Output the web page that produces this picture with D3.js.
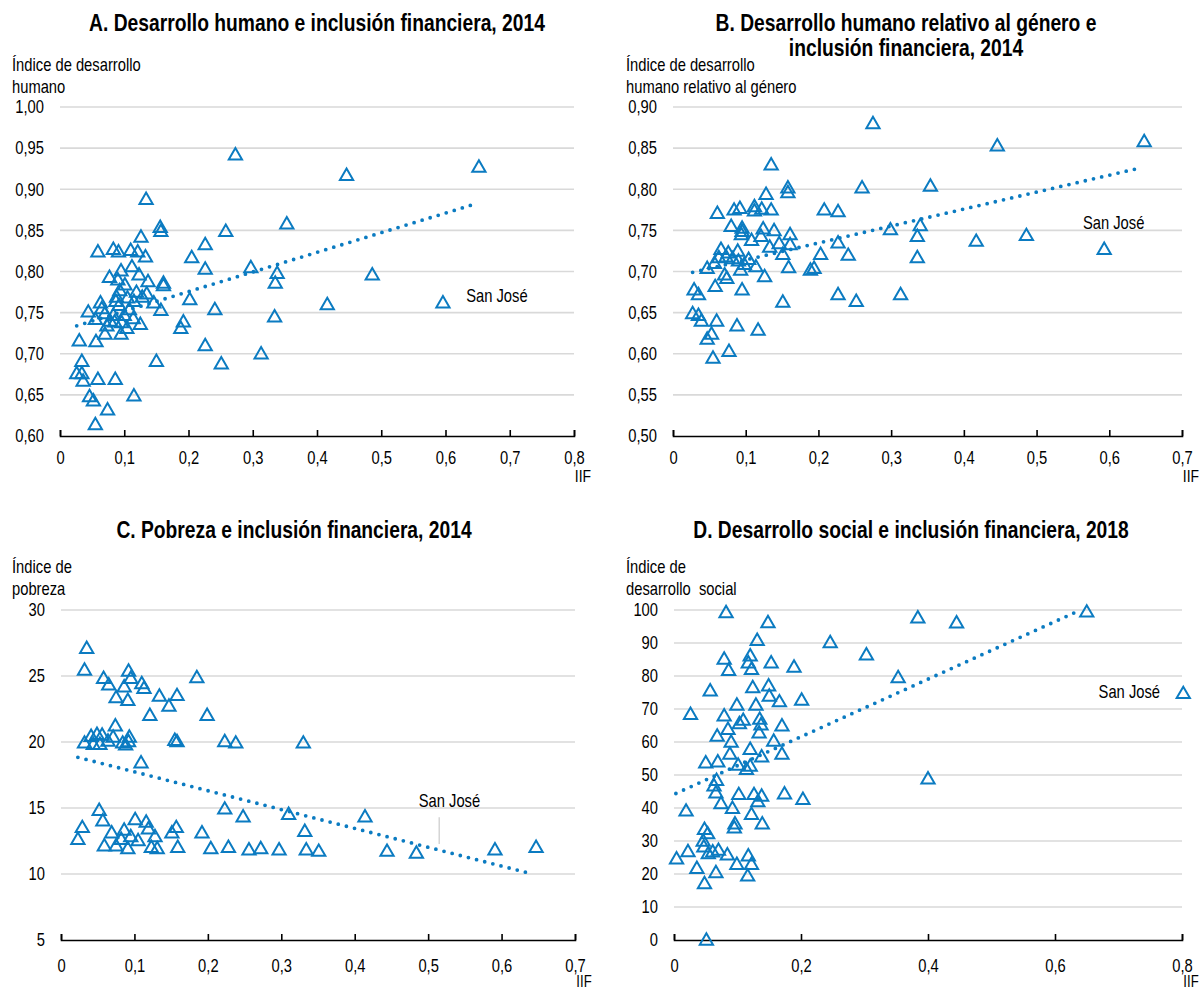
<!DOCTYPE html>
<html>
<head>
<meta charset="utf-8">
<title>Inclusión financiera - cantones</title>
<script src="https://d3js.org/d3.v7.min.js"></script>
<style>
  body { margin: 0; background: #fff; }
</style>
</head>
<body>
<div id="chart"></div>
<script>
// ---- datos: [IIF, indice] por canton ----
const puntosA = [[0.273,0.943],[0.134,0.889],[0.353,0.859],[0.156,0.855],[0.157,0.850],[0.126,0.843],[0.258,0.850],[0.226,0.834],
  [0.059,0.825],[0.083,0.828],[0.091,0.825],[0.110,0.827],[0.121,0.825],[0.133,0.819],[0.205,0.818],[0.226,0.804],[0.112,0.807],
  [0.095,0.802],[0.077,0.794],[0.090,0.791],[0.123,0.797],[0.137,0.789],[0.161,0.787],[0.161,0.784],[0.297,0.806],[0.338,0.799],
  [0.335,0.787],[0.202,0.767],[0.241,0.755],[0.334,0.746],[0.044,0.752],[0.063,0.763],[0.088,0.770],[0.105,0.769],[0.119,0.776],
  [0.135,0.774],[0.146,0.763],[0.157,0.754],[0.055,0.743],[0.070,0.750],[0.078,0.741],[0.096,0.739],[0.114,0.744],[0.125,0.737],
  [0.070,0.725],[0.095,0.725],[0.030,0.717],[0.056,0.716],[0.192,0.740],[0.188,0.732],[0.034,0.692],[0.026,0.677],[0.034,0.677],
  [0.036,0.668],[0.059,0.670],[0.086,0.670],[0.150,0.692],[0.226,0.711],[0.251,0.689],[0.313,0.701],[0.046,0.649],[0.052,0.644],
  [0.115,0.650],[0.074,0.633],[0.055,0.615],[0.446,0.918],[0.652,0.928],[0.486,0.797],[0.416,0.761],[0.596,0.763],
  [0.087,0.765],[0.092,0.760],[0.100,0.748],[0.108,0.755],[0.083,0.748],[0.065,0.756],[0.093,0.778],[0.101,0.785],[0.115,0.765],
  [0.128,0.770],[0.085,0.740],[0.073,0.735],[0.104,0.732]];

const puntosB = [[0.275,0.881],[0.135,0.831],[0.158,0.803],[0.158,0.797],[0.260,0.803],[0.128,0.795],[0.061,0.772],[0.084,0.776],
  [0.092,0.778],[0.112,0.780],[0.112,0.775],[0.122,0.777],[0.135,0.776],[0.208,0.776],[0.227,0.774],[0.080,0.756],[0.095,0.754],
  [0.095,0.750],[0.094,0.746],[0.124,0.753],[0.139,0.751],[0.161,0.746],[0.121,0.744],[0.108,0.739],[0.133,0.731],[0.146,0.735],
  [0.161,0.734],[0.151,0.722],[0.203,0.722],[0.227,0.736],[0.241,0.721],[0.299,0.752],[0.066,0.728],[0.076,0.724],[0.089,0.726],
  [0.063,0.718],[0.073,0.719],[0.082,0.717],[0.090,0.714],[0.098,0.710],[0.104,0.716],[0.114,0.707],[0.093,0.703],[0.047,0.705],
  [0.057,0.711],[0.159,0.706],[0.189,0.703],[0.194,0.705],[0.126,0.695],[0.074,0.693],[0.071,0.697],[0.058,0.683],[0.095,0.679],
  [0.029,0.679],[0.035,0.673],[0.227,0.673],[0.252,0.665],[0.151,0.664],[0.027,0.650],[0.035,0.648],[0.039,0.641],[0.060,0.641],
  [0.088,0.635],[0.117,0.630],[0.053,0.625],[0.047,0.619],[0.077,0.604],[0.055,0.596],[0.313,0.673],[0.648,0.859],[0.446,0.854],
  [0.354,0.805],[0.340,0.757],[0.336,0.744],[0.336,0.718],[0.417,0.738],[0.486,0.745],[0.593,0.728]];

const puntosC = [[0.035,27.17],[0.032,25.53],[0.058,24.9],[0.065,24.4],[0.092,25.45],[0.095,24.9],[0.086,24.25],[0.110,24.5],
  [0.113,24.14],[0.075,23.43],[0.091,23.23],[0.134,23.56],[0.158,23.6],[0.147,22.8],[0.185,24.95],[0.121,22.1],[0.199,22.1],
  [0.074,21.3],[0.032,20.0],[0.041,20.5],[0.049,20.65],[0.056,20.6],[0.044,19.9],[0.053,19.9],[0.064,20.15],[0.071,20.45],
  [0.084,20.0],[0.088,19.85],[0.093,20.45],[0.092,20.1],[0.155,20.2],[0.158,20.1],[0.223,20.1],[0.238,20.0],[0.330,20.0],
  [0.109,18.5],[0.414,14.4],[0.332,13.3],[0.334,11.9],[0.351,11.8],[0.444,11.8],[0.484,11.65],[0.591,11.9],[0.647,12.1],
  [0.223,15.0],[0.248,14.4],[0.310,14.6],[0.023,12.7],[0.029,13.6],[0.052,14.9],[0.057,14.1],[0.059,12.2],[0.069,13.2],
  [0.075,12.2],[0.082,12.7],[0.086,13.4],[0.091,12.0],[0.095,12.9],[0.101,14.2],[0.105,12.6],[0.116,14.0],[0.119,13.5],
  [0.123,12.1],[0.128,12.9],[0.131,12.0],[0.151,13.2],[0.157,13.6],[0.159,12.1],[0.192,13.2],[0.204,12.0],[0.228,12.1],
  [0.256,11.9],[0.272,12.0],[0.297,11.9]];

const puntosD = [[0.082,99.5],[0.148,96.5],[0.131,91.1],[0.246,90.4],[0.079,85.4],[0.086,82.0],[0.120,86.4],[0.117,84.3],
  [0.122,82.3],[0.153,84.3],[0.189,83.0],[0.057,75.8],[0.124,76.8],[0.149,77.3],[0.150,74.2],[0.166,72.5],[0.201,73.0],
  [0.099,71.5],[0.129,71.5],[0.026,68.7],[0.079,68.2],[0.109,66.9],[0.103,65.9],[0.135,67.2],[0.137,65.5],[0.170,65.2],
  [0.085,64.1],[0.134,63.1],[0.068,62.1],[0.090,60.3],[0.157,60.6],[0.120,58.1],[0.170,56.6],[0.088,56.6],[0.138,55.8],
  [0.050,54.0],[0.069,54.3],[0.101,53.3],[0.114,52.0],[0.120,53.0],[0.067,48.7],[0.063,47.0],[0.066,44.9],[0.074,41.6],
  [0.102,44.4],[0.126,44.4],[0.132,42.2],[0.138,43.9],[0.174,44.6],[0.203,42.9],[0.092,40.2],[0.122,38.4],[0.139,35.5],
  [0.019,39.4],[0.096,35.5],[0.095,34.3],[0.048,33.8],[0.053,32.5],[0.046,30.3],[0.047,28.5],[0.022,27.1],[0.004,24.9],
  [0.054,26.5],[0.061,27.0],[0.070,27.5],[0.084,26.1],[0.099,23.2],[0.117,25.8],[0.122,23.2],[0.116,19.7],[0.036,22.0],
  [0.066,20.7],[0.048,17.4],[0.051,0.3],[0.384,97.9],[0.445,96.4],[0.303,86.7],[0.353,79.8],[0.650,99.7],[0.802,75.0],
  [0.400,49.1]];

// lineas de tendencia (extremos)
const tendA = [[0.026,0.734],[0.650,0.883]];
const tendB = [[0.027,0.699],[0.643,0.826]];
const tendC = [[0.023,18.84],[0.642,10.0]];
const tendD = [[0.003,44.4],[0.639,99.9]];

// posicion de la etiqueta "San José" en cada panel
const etqA = [0.680,0.771];
const etqB = [0.606,0.760];
const etqC = [0.529,15.56];
const etqD = [0.717,75.3];
const guiaC = [0.515,14.3,12.27];

// ticks
const ticksXA = [0,0.1,0.2,0.3,0.4,0.5,0.6,0.7,0.8];
const ticksXB = [0,0.1,0.2,0.3,0.4,0.5,0.6,0.7];
const ticksXC = [0,0.1,0.2,0.3,0.4,0.5,0.6,0.7];
const ticksXD = [0,0.2,0.4,0.6,0.8];
const ticksYA = [0.60,0.65,0.70,0.75,0.80,0.85,0.90,0.95,1.00];
const ticksYB = [0.50,0.55,0.60,0.65,0.70,0.75,0.80,0.85,0.90];
const ticksYC = [5,10,15,20,25,30];
const ticksYD = [0,10,20,30,40,50,60,70,80,90,100];

const azul = "#0b7bc1";

let svg = d3.select("#chart").append("svg")
    .attr("width", 1200).attr("height", 989);

// ver si hay fuente estrecha instalada; si no, se comprime la normal
let probe = svg.append("text").style("font-size", "100px")
    .style("font-family", "'Liberation Sans Narrow'").text("Desarrollo humano");
let wN = probe.node().getComputedTextLength();
probe.style("font-family", "'Liberation Sans'");
let wR = probe.node().getComputedTextLength();
probe.remove();
const narrowOK = wN / wR < 0.9;
const FONT = narrowOK ? "'Liberation Sans Narrow', 'Arial Narrow', sans-serif" : "'Liberation Sans', Arial, sans-serif";
const sq = narrowOK ? 1 : 0.82;

function txt(x, y, s, size, anchor, weight) {
    return svg.append("text")
        .attr("transform", "translate(" + x + "," + y + ") scale(" + sq + ",1)")
        .attr("text-anchor", anchor || "start")
        .style("font-family", FONT)
        .style("font-size", size + "px")
        .style("font-weight", weight || "normal")
        .style("white-space", "pre")
        .attr("fill", "#000")
        .text(s);
}

const coma = s => s.replace(".", ",");
const fmtX = d => d === 0 ? "0" : coma(d3.format(".1f")(d));

function panel(cfg) {
    let x = d3.scaleLinear().domain(cfg.xDom).range([cfg.left, cfg.right]);
    let y = d3.scaleLinear().domain(cfg.yDom).range([cfg.bottom, cfg.top]);

    // lineas de cuadricula
    svg.append("g").selectAll("line")
        .data(cfg.yTicks.slice(1))
        .enter().append("line")
        .attr("x1", cfg.left).attr("x2", cfg.right)
        .attr("y1", d => y(d)).attr("y2", d => y(d))
        .attr("stroke", "#d9d9d9").attr("stroke-width", 1.6);

    // eje vertical: solo etiquetas
    let ya = svg.append("g")
        .attr("transform", "translate(" + cfg.left + ",0)")
        .call(d3.axisLeft(y).tickValues(cfg.yTicks).tickSize(0).tickPadding(16).tickFormat(cfg.yFmt));
    ya.select(".domain").remove();
    ya.selectAll("text")
        .attr("x", -16 / sq)
        .attr("transform", "scale(" + sq + ",1)")
        .style("font-family", FONT).style("font-size", "18px").attr("fill", "#000");

    // eje horizontal
    let xa = svg.append("g")
        .attr("transform", "translate(0," + cfg.bottom + ")")
        .call(d3.axisBottom(x).tickValues(cfg.xTicks).tickSizeInner(-6).tickSizeOuter(-6)
              .tickPadding(cfg.xPad).tickFormat(fmtX));
    xa.select(".domain").attr("stroke", "#000").attr("stroke-width", 1.6);
    xa.selectAll(".tick line").attr("stroke", "#000").attr("stroke-width", 1.6);
    xa.selectAll("text")
        .attr("transform", "scale(" + sq + ",1)")
        .style("font-family", FONT).style("font-size", "18px").attr("fill", "#000");

    // tendencia punteada
    svg.append("path")
        .datum(cfg.tend)
        .attr("d", d3.line().x(d => x(d[0])).y(d => y(d[1])))
        .attr("fill", "none")
        .attr("stroke", azul)
        .attr("stroke-width", 3.8)
        .attr("stroke-linecap", "round")
        .attr("stroke-dasharray", "0,8.4");

    // triangulos
    let tri = d3.symbol().type(d3.symbolTriangle).size(76);
    svg.append("g").selectAll("path")
        .data(cfg.pts)
        .enter().append("path")
        .attr("d", tri)
        .attr("transform", d => "translate(" + x(d[0]) + "," + (y(d[1]) + 1.8) + ")")
        .attr("fill", "none")
        .attr("stroke", azul)
        .attr("stroke-width", 2);

    // San José
    txt(x(cfg.etq[0]), y(cfg.etq[1]) + 6.4, "San José", 18, "middle");
    if (cfg.guia) {
        svg.append("line")
            .attr("x1", x(cfg.guia[0])).attr("x2", x(cfg.guia[0]))
            .attr("y1", y(cfg.guia[1])).attr("y2", y(cfg.guia[2]))
            .attr("stroke", "#bfbfbf").attr("stroke-width", 1);
    }

    // titulos
    cfg.title.forEach((t, i) => txt(cfg.titleX, cfg.titleY + i * 25, t, 23.5, "middle", "bold"));
    cfg.yLabel.forEach((t, i) => txt(cfg.yLabX, cfg.yLabY + i * 21.5, t, 18, "start"));
    txt(cfg.right + 9, cfg.bottom + cfg.iifDy, "IIF", cfg.iifSize, "middle");
}

const fmt2 = d => coma(d3.format(".2f")(d));
const fmt0 = d3.format("d");

panel({pts: puntosA, tend: tendA, etq: etqA, xDom: [0, 0.8], yDom: [0.6, 1.0],
    xTicks: ticksXA, yTicks: ticksYA, yFmt: fmt2, left: 60, right: 574, top: 107, bottom: 436, xPad: 15,
    title: ["A. Desarrollo humano e inclusión financiera, 2014"], titleX: 317, titleY: 31,
    yLabel: ["Índice de desarrollo", "humano"], yLabX: 12, yLabY: 71, iifDy: 46, iifSize: 17});

panel({pts: puntosB, tend: tendB, etq: etqB, xDom: [0, 0.7], yDom: [0.5, 0.9],
    xTicks: ticksXB, yTicks: ticksYB, yFmt: fmt2, left: 673, right: 1182, top: 107, bottom: 436, xPad: 15,
    title: ["B. Desarrollo humano relativo al género e", "inclusión financiera, 2014"], titleX: 906, titleY: 31,
    yLabel: ["Índice de desarrollo", "humano relativo al género"], yLabX: 626, yLabY: 71, iifDy: 46, iifSize: 17});

panel({pts: puntosC, tend: tendC, etq: etqC, guia: guiaC, xDom: [0, 0.7], yDom: [5, 30],
    xTicks: ticksXC, yTicks: ticksYC, yFmt: fmt0, left: 61, right: 575, top: 610, bottom: 940, xPad: 19,
    title: ["C. Pobreza e inclusión financiera, 2014"], titleX: 294, titleY: 538,
    yLabel: ["Índice de", "pobreza"], yLabX: 12, yLabY: 573, iifDy: 47, iifSize: 16});

panel({pts: puntosD, tend: tendD, etq: etqD, xDom: [0, 0.8], yDom: [0, 100],
    xTicks: ticksXD, yTicks: ticksYD, yFmt: fmt0, left: 674, right: 1182, top: 610, bottom: 940, xPad: 19,
    title: ["D. Desarrollo social e inclusión financiera, 2018"], titleX: 911, titleY: 538,
    yLabel: ["Índice de", "desarrollo  social"], yLabX: 626, yLabY: 573, iifDy: 47, iifSize: 16});
</script>
</body>
</html>
